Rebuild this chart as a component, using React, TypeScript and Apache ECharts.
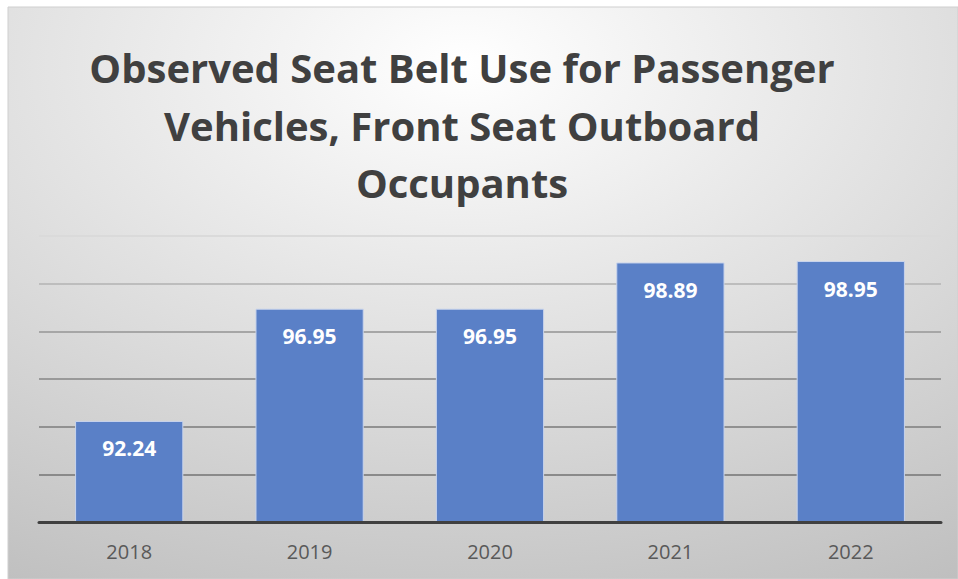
import React, { useEffect, useRef } from "react";
import * as echarts from "echarts";

const titleLines = [
  "Observed Seat Belt Use for Passenger",
  "Vehicles, Front Seat Outboard",
  "Occupants",
];
const years = ["2018", "2019", "2020", "2021", "2022"];
const beltUse = [92.24, 96.95, 96.95, 98.89, 98.95];
const yMin = 88;
const yMax = 100;
const yStep = 2;
const gridColors = ["#8a8a8a", "#8a8a8a", "#919191", "#999999", "#a6a6a6", "#bdbdbd", "#dadada"];

export default function App() {
  const ref = useRef<HTMLDivElement>(null);
  useEffect(() => {
    if (!ref.current) return;
    const chart = echarts.init(ref.current, undefined, { renderer: "svg" });
    chart.setOption({
      animation: false,
      graphic: [
        {
          type: "rect",
          z: -10,
          silent: true,
          shape: { x: 8, y: 7, width: 950, height: 572 },
          style: {
            fill: new echarts.graphic.RadialGradient(0.48, 0.1, 1.1, [
              { offset: 0, color: "#ffffff" },
              { offset: 1, color: "#bbbbbb" },
            ]),
            stroke: "#cfcfcf",
            lineWidth: 1,
          },
        },
      ],
      title: {
        text: titleLines.join("\n"),
        left: 457,
        top: 34,
        textAlign: "center",
        textStyle: {
          fontFamily: "Open Sans",
          fontWeight: "bold",
          fontSize: 40,
          lineHeight: 57.5,
          color: "#404040",
        },
      },
      grid: { left: 39, right: 17, top: 236, bottom: 57, containLabel: false },
      xAxis: {
        type: "category",
        data: years,
        axisLine: { show: true, lineStyle: { color: "#404040", width: 3 } },
        axisTick: { show: false },
        axisLabel: {
          color: "#595959",
          fontSize: 20,
          fontFamily: "Open Sans",
          margin: 19,
        },
        z: 5,
      },
      yAxis: {
        type: "value",
        min: yMin,
        max: yMax,
        interval: yStep,
        axisLabel: { show: false },
        axisLine: { show: false },
        axisTick: { show: false },
        splitLine: { show: true, lineStyle: { color: gridColors, width: 2 } },
      },
      series: [
        {
          type: "bar",
          data: beltUse,
          barCategoryGap: "40%",
          itemStyle: { color: "#5A80C7", borderColor: "#c9d4ec", borderWidth: 1 },
          label: {
            show: true,
            position: "insideTop",
            distance: 17,
            color: "#ffffff",
            fontFamily: "Open Sans",
            fontWeight: "bold",
            fontSize: 21,
            formatter: (p: any) => p.value.toFixed(2),
          },
        },
      ],
    });
    return () => chart.dispose();
  }, []);
  return (
    <div
      ref={ref}
      style={{ position: "absolute", left: 0, top: 0, width: 958, height: 579 }}
    />
  );
}
